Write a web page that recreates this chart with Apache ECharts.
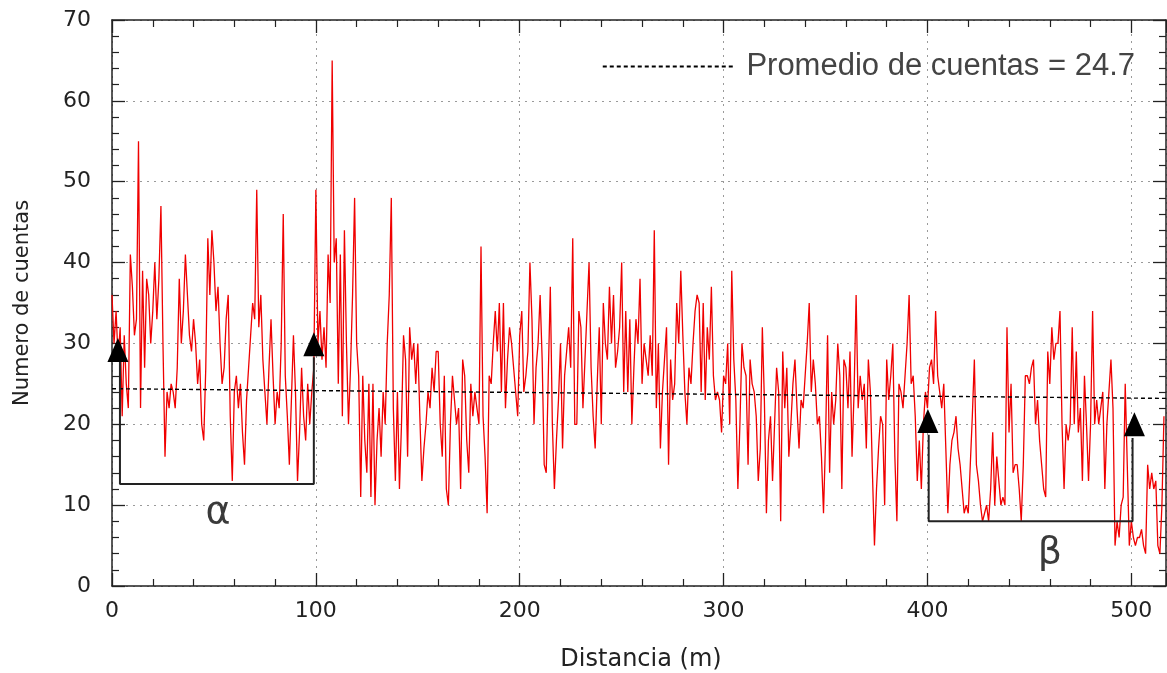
<!DOCTYPE html>
<html><head><meta charset="utf-8">
<script src="https://cdn.jsdelivr.net/npm/echarts@6/dist/echarts.min.js"></script>
<style>html,body{margin:0;padding:0;background:#fff}#c{width:1167px;height:673px}</style>
</head><body><div id="c"></div>
<script>
// Sampling step along the profile (m)
const stepMeters = 1;
// Counts, one per metre, 0..516 m
const counts = [
36,30,34,28,32,21,31,25,22,41,
37,31,33,55,22,39,27,38,36,30,
34,40,33,38,47,30,16,24,22,25,
24,22,27,38,30,34,41,36,31,29,
33,30,25,28,20,18,27,43,36,44,
40,34,37,30,25,27,33,36,21,13,
24,26,22,25,19,15,23,27,31,35,
33,49,32,36,28,24,20,27,33,26,
20,24,22,30,46,26,21,15,23,31,
24,13,19,27,21,18,25,20,24,27,
49,30,34,28,32,27,41,35,65,40,
43,25,41,21,44,30,20,27,36,48,
30,26,11,26,18,14,25,11,25,10,
18,22,16,24,20,30,36,48,22,13,
24,12,20,31,28,16,32,28,30,25,
30,21,13,17,20,24,22,27,24,29,
29,20,16,26,12,10,20,26,23,20,
22,12,28,26,18,14,25,21,24,22,
20,42,21,16,9,26,25,30,34,29,
35,24,35,22,28,32,30,27,24,21,
31,34,24,26,29,40,33,20,27,30,
36,28,15,14,26,37,20,12,18,23,
30,17,26,29,32,27,43,20,20,34,
32,22,28,34,40,27,21,17,25,32,
20,35,30,28,37,30,36,27,29,32,
40,24,34,24,33,20,27,33,30,38,
25,30,28,26,31,26,44,22,30,17,
24,28,32,15,28,23,25,35,30,39,
31,24,20,27,25,30,34,36,35,24,
35,23,32,28,37,26,23,24,23,19,
26,25,30,20,39,28,23,12,20,30,
27,26,15,28,25,24,21,13,17,32,
23,9,18,21,13,20,27,24,8,29,
22,27,16,20,25,28,22,17,23,22,
26,30,35,24,28,25,20,21,16,9,
18,31,14,24,20,23,30,26,12,28,
27,22,29,16,24,36,22,26,23,25,
17,28,24,14,5,12,17,21,20,10,
28,23,26,30,16,8,25,24,22,26,
30,36,25,26,21,13,18,12,20,24,
22,27,28,25,34,26,24,22,25,17,
9,15,18,19,21,17,15,12,9,10,
9,15,21,28,15,13,10,8,9,10,
8,12,19,10,16,13,10,11,10,32,
19,25,14,15,15,12,8,15,26,26,
25,27,28,20,23,18,15,12,11,29,
25,32,28,30,30,34,20,12,20,18,
20,32,20,29,19,22,13,26,20,13,
20,34,20,23,20,22,24,12,20,24,
28,22,5,8,6,10,11,25,15,5,
8,6,5,6,6,7,5,4,15,12,
14,12,13,5,4,10,21
];
// Average line (drawn slightly sloped in the picture)
const avgName = 'Promedio de cuentas = 24.7';
const avgX = [0, 517];
const avgY = [24.4, 23.2];
// Bracket alpha and beta (x, y)
const alphaX = [3.9, 3.9, 99, 99];
const alphaY = [27.7, 12.6, 12.6, 28.3];
const betaX = [400.6, 400.6, 500.6, 500.6];
const betaY = [18.7, 8.0, 8.0, 18.3];
// Triangle markers
const triX = [2.9, 99, 400.2, 501.5];
const triY = [29.2, 29.9, 20.4, 20.0];
// Greek labels
const greekNames = ['α', 'β'];
const greekX = [52, 460];
const greekY = [9.0, 4.1];
// Axis
const xTitle = 'Distancia (m)';
const yTitle = 'Numero de cuentas';
const xMin = 0, xMax = 517, xStep = 100;
const yMin = 0, yMax = 70, yStep = 10;

const zip = (a, b) => a.map((v, i) => [v, b[i]]);
const profile = counts.map((v, i) => [i * stepMeters, v]);

const axisCommon = {
  type: 'value',
  axisLine: { show: true, onZero: false, lineStyle: { color: '#222', width: 1.5 } },
  axisTick: { show: true, inside: true, length: 13, lineStyle: { color: '#222', width: 1.3 } },
  minorTick: { show: true, splitNumber: 5, length: 7, lineStyle: { color: '#222', width: 1.2 } },
  splitLine: { show: false },
  axisLabel: { show: false }
};

const chart = echarts.init(document.getElementById('c'), null, { renderer: 'canvas' });
chart.setOption({
  animation: false,
  backgroundColor: '#fff',
  textStyle: { fontFamily: 'DejaVu Sans' },
  grid: { left: 112, right: 1, top: 20, bottom: 87, outerBoundsMode: 'none', containLabel: false },
  legend: {
    data: [avgName],
    right: 32, top: 51, padding: 0,
    itemWidth: 130, itemHeight: 14,
    formatter: ' {name}',
    itemStyle: { color: 'rgba(0,0,0,0)', borderColor: 'rgba(0,0,0,0)', borderWidth: 0 },
    textStyle: { fontSize: 31, fontFamily: 'Liberation Sans', color: '#444' }
  },
  graphic: [{
    type: 'text', x: 641, y: 660, silent: true,
    style: { text: xTitle, fill: '#222', font: '24px "DejaVu Sans"', textAlign: 'center', textVerticalAlign: 'middle' }
  }],
  xAxis: [
    Object.assign({}, axisCommon, {
      min: xMin, max: xMax, interval: xStep, position: 'bottom',
      splitLine: { show: true, lineStyle: { color: '#9a9a9a', width: 1, type: [2, 5] } },
      axisLabel: { show: true, fontSize: 22, color: '#222', margin: 14, showMaxLabel: false }
    }),
    Object.assign({}, axisCommon, { min: xMin, max: xMax, interval: xStep, position: 'top' })
  ],
  yAxis: [
    Object.assign({}, axisCommon, {
      min: yMin, max: yMax, interval: yStep, position: 'left',
      splitLine: { show: true, lineStyle: { color: '#9a9a9a', width: 1, type: [2, 5] } },
      axisLabel: { show: true, fontSize: 22, color: '#222', margin: 21 },
      name: yTitle, nameLocation: 'middle', nameGap: 79, nameRotate: 90,
      nameTextStyle: { fontSize: 21, color: '#222' }
    }),
    Object.assign({}, axisCommon, { min: yMin, max: yMax, interval: yStep, position: 'right' })
  ],
  series: [
    {
      name: 'cuentas', type: 'line', data: profile, showSymbol: false, symbol: 'none',
      lineStyle: { color: '#f00000', width: 1.3 }, z: 2, silent: true
    },
    {
      name: avgName, type: 'line', data: zip(avgX, avgY), symbol: 'none',
      lineStyle: { color: '#000', width: 1.4, type: [4, 3] }, z: 3
    },
    {
      name: 'alpha', type: 'line', data: zip(alphaX, alphaY), symbol: 'none',
      lineStyle: { color: '#222', width: 2 }, z: 4
    },
    {
      name: 'beta', type: 'line', data: zip(betaX, betaY), symbol: 'none',
      lineStyle: { color: '#222', width: 2 }, z: 4
    },
    {
      name: 'marcas', type: 'scatter', data: zip(triX, triY), symbol: 'triangle',
      symbolSize: [21, 24], itemStyle: { color: '#000', opacity: 1 }, z: 5
    },
    {
      name: 'letras', type: 'scatter', symbolSize: 1, itemStyle: { color: 'rgba(0,0,0,0)', opacity: 1 },
      data: greekNames.map((n, i) => ({ name: n, value: [greekX[i], greekY[i]] })),
      label: { show: true, position: 'inside', formatter: '{b}', fontSize: 38, color: '#3a3a3a', fontFamily: 'DejaVu Sans' },
      z: 5
    }
  ]
});
</script>
</body></html>
